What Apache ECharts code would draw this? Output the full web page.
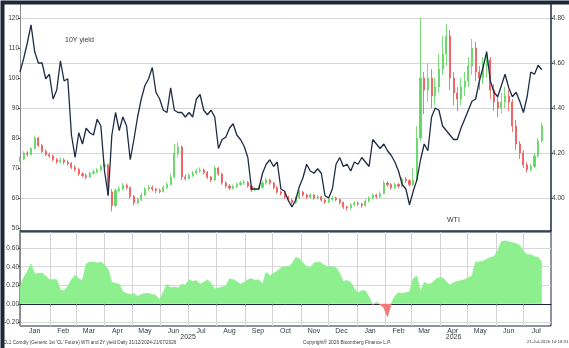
<!DOCTYPE html>
<html>
<head>
<meta charset="utf-8">
<script src="https://cdn.jsdelivr.net/npm/echarts@6/dist/echarts.min.js"></script>
<style>
html, body { margin: 0; padding: 0; background: #fff; }
#c { width: 569px; height: 348px; }
</style>
</head>
<body>
<div id="c"></div>
<script>
// samples every 4 calendar days from 30 Dec 2024
const START = Date.UTC(2024, 11, 30)
const DAY = 86400000
const STEP = 4

const monthNames = ['Jan', 'Feb', 'Mar', 'Apr', 'May', 'Jun', 'Jul', 'Aug', 'Sep', 'Oct', 'Nov', 'Dec']
const wtiTicks = [50, 60, 70, 80, 90, 100, 110, 120]
const yieldTicks = [4.0, 4.2, 4.4, 4.6, 4.8]
const corrTicks = [-0.2, 0, 0.2, 0.4, 0.6]

// 2Y yield (right axis)
const yield2y = [
  4.56, 4.62, 4.69, 4.77, 4.65, 4.60, 4.60, 4.53, 4.55, 4.44,
  4.48, 4.61, 4.52, 4.53, 4.28, 4.18, 4.29, 4.24, 4.31, 4.29,
  4.28, 4.35, 4.32, 4.12, 4.01, 4.28, 4.38, 4.30, 4.36, 4.32,
  4.17, 4.26, 4.36, 4.44, 4.50, 4.53, 4.58, 4.47, 4.44, 4.39,
  4.38, 4.49, 4.39, 4.38, 4.38, 4.36, 4.38, 4.36, 4.44, 4.46,
  4.39, 4.37, 4.39, 4.36, 4.22, 4.26, 4.27, 4.31, 4.33, 4.28,
  4.26, 4.23, 4.18, 4.04, 4.04, 4.04, 4.11, 4.15, 4.17, 4.14,
  4.16, 4.04, 4.03, 3.99, 3.96, 3.99, 4.05, 4.09, 4.15, 4.12,
  4.11, 4.13, 4.11, 4.01, 4.00, 4.04, 4.15, 4.18, 4.14, 4.15,
  4.12, 4.16, 4.15, 4.18, 4.16, 4.14, 4.26, 4.24, 4.22, 4.24,
  4.21, 4.19, 4.16, 4.12, 4.06, 4.04, 3.97, 4.03, 4.08, 4.17,
  4.24, 4.21, 4.36, 4.40, 4.39, 4.32, 4.30, 4.28, 4.26, 4.26,
  4.31, 4.35, 4.39, 4.43, 4.44, 4.52, 4.58, 4.65, 4.52, 4.47,
  4.45, 4.50, 4.55, 4.49, 4.45, 4.47, 4.43, 4.38, 4.45, 4.56,
  4.55, 4.59, 4.57
]

// WTI [open, close, low, high] (left axis)
const wti = [
  [72.5, 73, 72, 73.8], [73, 75, 72.6, 75.6], [75, 74.5, 73.8, 75.6], [74.5, 76.5, 74.2, 77],
  [76.5, 80, 76.2, 80.8], [80, 77.5, 77, 80.4], [77.5, 75.5, 75, 78], [75.5, 74.5, 74, 76.2],
  [74.5, 74, 73.3, 75.2], [74, 72.8, 72.3, 74.5], [72.8, 72, 71.4, 73.4], [72, 72.7, 71.5, 73.5],
  [72.7, 72, 71.2, 73.3], [72, 71.5, 70.8, 72.6], [71.5, 70.2, 69.6, 72], [70.2, 69.5, 68.8, 71],
  [69.5, 68, 67.3, 70], [68, 67.5, 66.8, 68.6], [67.5, 67, 66.2, 68.2], [67, 68.3, 66.7, 68.8],
  [68.3, 68.7, 67.8, 69.4], [68.7, 69.3, 68.2, 70], [69.3, 70.5, 68.9, 71.2], [70.5, 71, 69.8, 71.8],
  [71, 62, 61, 71.5], [62, 57.5, 55.5, 63], [57.5, 62.5, 57, 63.2], [62.5, 63, 61.8, 64],
  [63, 64.2, 62.5, 65], [64.2, 63.5, 62.8, 64.8], [63.5, 60.5, 59.8, 63.8], [60.5, 58.5, 57.5, 61],
  [58.5, 59.5, 57.8, 60.2], [59.5, 61, 59, 61.8], [61, 63, 60.6, 63.6], [63, 63.5, 62.4, 64.4],
  [63.5, 63, 62.3, 64.2], [63, 62.5, 61.6, 63.4], [62.5, 62.2, 61.5, 63.2], [62.2, 63.5, 61.8, 64.2],
  [63.5, 64.5, 63, 65.2], [64.5, 67, 64.2, 68], [67, 75, 66.5, 78], [75, 77, 73.5, 78.5],
  [77, 67, 66, 77.5], [67, 66.5, 65.8, 67.8], [66.5, 67.5, 66, 68.2], [67.5, 68.3, 67, 69],
  [68.3, 69, 67.8, 69.8], [69, 69.3, 68.4, 70.2], [69.3, 68.5, 67.8, 69.8], [68.5, 67, 66.4, 69],
  [67, 66, 65.3, 67.4], [66, 70, 65.6, 70.8], [70, 68, 67.4, 70.4], [68, 65, 64.4, 68.4],
  [65, 64, 63.3, 65.6], [64, 63.3, 62.6, 64.6], [63.3, 63.8, 62.8, 64.5], [63.8, 64.5, 63.3, 65.2],
  [64.5, 65, 64, 65.8], [65, 65.2, 64.4, 66], [65.2, 64, 63.4, 65.7], [64, 62.7, 62, 64.4],
  [62.7, 63, 62.2, 63.7], [63, 63.5, 62.5, 64.2], [63.5, 65, 63.1, 65.7], [65, 66, 64.5, 66.8],
  [66, 65, 64.4, 66.4], [65, 63.5, 62.8, 65.4], [63.5, 62, 61.4, 63.9], [62, 61.5, 60.8, 62.5],
  [61.5, 60.3, 59.6, 62], [60.3, 59.3, 58.6, 60.8], [59.3, 58.5, 57.8, 59.8], [58.5, 60, 58, 60.6],
  [60, 62, 59.6, 62.6], [62, 61, 60.4, 62.4], [61, 60.3, 59.6, 61.4], [60.3, 61, 59.8, 61.6],
  [61, 60, 59.4, 61.4], [60, 60.4, 59.5, 61], [60.4, 59.3, 58.7, 60.8], [59.3, 58.7, 58, 59.8],
  [58.7, 59.5, 58.3, 60.1], [59.5, 60, 59, 60.6], [60, 59.5, 58.9, 60.4], [59.5, 58.5, 57.8, 59.9],
  [58.5, 57, 56.3, 58.8], [57, 56.7, 55.8, 57.5], [56.7, 57.7, 56.2, 58.3], [57.7, 58.3, 57.2, 59],
  [58.3, 58, 57.3, 58.8], [58, 57.5, 56.8, 58.4], [57.5, 59, 57.1, 59.6], [59, 60, 58.5, 60.6],
  [60, 61, 59.5, 61.6], [61, 60.5, 59.8, 61.4], [60.5, 61.5, 60, 62.2], [61.5, 65, 61.2, 65.8],
  [65, 64.5, 63.7, 65.6], [64.5, 63.5, 62.8, 65], [63.5, 64.5, 63, 65.2], [64.5, 64, 63.2, 65],
  [64, 66.3, 63.6, 67], [66.3, 65.8, 65, 67], [65.8, 64.5, 63.8, 66.2], [64.5, 66, 64, 70],
  [66, 80, 65.5, 84], [80, 100, 79, 120], [100, 96, 88, 102], [96, 100, 92, 105],
  [100, 94, 90, 103], [94, 97, 91, 100], [97, 103, 95, 108], [103, 108, 101, 114],
  [108, 114, 104, 118], [114, 100, 96, 116], [100, 95, 91, 102], [95, 93, 89, 97],
  [93, 97, 91, 100], [97, 99, 94, 102], [99, 104, 97, 107], [104, 110, 101, 113],
  [110, 102, 99, 112], [102, 100, 96, 104], [100, 104, 98, 107], [104, 106, 100, 109],
  [106, 96, 93, 107], [96, 92, 89, 98], [92, 90, 87, 94], [90, 92, 88, 95],
  [92, 94, 90, 97], [94, 92, 89, 96], [92, 84, 82, 93], [84, 78, 76, 86],
  [78, 75, 73, 79], [75, 71, 70, 76], [71, 69.5, 68.5, 72], [69.5, 70.5, 68.8, 71.5],
  [70.5, 74, 70, 75], [74, 79, 73.5, 80], [79, 84, 78.5, 85]
]

// rolling correlation (lower panel)
const corr = [
  0.18, 0.28, 0.35, 0.43, 0.32, 0.33, 0.33, 0.30, 0.26, 0.26,
  0.26, 0.15, 0.14, 0.19, 0.26, 0.31, 0.27, 0.25, 0.43, 0.45,
  0.45, 0.44, 0.45, 0.42, 0.37, 0.23, 0.22, 0.21, 0.13, 0.11,
  0.10, 0.11, 0.08, 0.10, 0.11, 0.11, 0.10, 0.09, 0.04, 0.13,
  0.21, 0.17, 0.18, 0.17, 0.21, 0.20, 0.26, 0.24, 0.25, 0.21,
  0.23, 0.26, 0.22, 0.16, 0.17, 0.18, 0.19, 0.27, 0.26, 0.24,
  0.21, 0.23, 0.26, 0.27, 0.25, 0.26, 0.21, 0.34, 0.30, 0.33,
  0.35, 0.39, 0.40, 0.40, 0.43, 0.50, 0.49, 0.44, 0.40, 0.39,
  0.44, 0.45, 0.44, 0.41, 0.40, 0.40, 0.39, 0.33, 0.24, 0.25,
  0.23, 0.16, 0.12, 0.14, 0.14, 0.07, -0.01, 0.02, -0.01, -0.04,
  -0.14, 0.00, 0.08, 0.12, 0.11, 0.12, 0.13, 0.27, 0.30, 0.13,
  0.23, 0.21, 0.22, 0.26, 0.28, 0.28, 0.24, 0.20, 0.23, 0.24,
  0.25, 0.26, 0.28, 0.30, 0.45, 0.45, 0.46, 0.48, 0.50, 0.51,
  0.57, 0.67, 0.68, 0.67, 0.66, 0.65, 0.63, 0.57, 0.53, 0.53,
  0.51, 0.50, 0.45
]

const t = i => START + i * STEP * DAY
const X_MIN = Date.UTC(2024, 11, 30)
const X_MAX = Date.UTC(2026, 6, 31)
const monthStarts = []
const monthMids = []
for (let m = 0; m < 19; m++) {
  if (m > 0) monthStarts.push(Date.UTC(2025, m, 1))
  monthMids.push(Date.UTC(2025, m, 15))
}
const yearMids = [Date.UTC(2025, 6, 1), Date.UTC(2026, 3, 16)]

const FONT = 'Liberation Sans'
const TXT = '#3a3a3a'
const NAVY = '#1c2838'
const lbl = { color: TXT, fontSize: 7, fontFamily: FONT }
const ylbl = { color: TXT, fontSize: 6.5, fontFamily: FONT }

const chart = echarts.init(document.getElementById('c'))
chart.setOption({
  animation: false,
  grid: [
    { left: 20, right: 18, top: 3, height: 228 },
    { left: 20, right: 18, top: 232, height: 94, show: true, borderColor: NAVY, borderWidth: 1 },
  ],
  xAxis: [
    { gridIndex: 0, type: 'value', min: X_MIN, max: X_MAX,
      axisLine: { lineStyle: { color: NAVY, width: 1.5 } },
      axisTick: { show: false }, axisLabel: { show: false }, splitLine: { show: false } },
    { gridIndex: 1, type: 'value', min: X_MIN, max: X_MAX,
      axisLine: { lineStyle: { color: NAVY, width: 1 } },
      axisTick: { customValues: monthStarts, length: 2, lineStyle: { color: '#777' } },
      axisLabel: { ...lbl, margin: 2, customValues: monthMids,
        formatter: v => monthNames[new Date(v).getUTCMonth()] },
      splitLine: { show: true, lineStyle: { color: '#d4d4d4', width: 1 } } },
    { gridIndex: 1, type: 'value', min: X_MIN, max: X_MAX, position: 'bottom', offset: 7,
      axisLine: { show: false }, axisTick: { show: false }, splitLine: { show: false },
      axisLabel: { ...lbl, margin: 1, customValues: yearMids,
        formatter: v => String(new Date(v).getUTCFullYear()) } },
  ],
  yAxis: [
    { gridIndex: 0, type: 'value', position: 'left', min: 49, max: 125,
      axisLine: { show: true, lineStyle: { color: '#8a8a8a' } },
      axisTick: { show: true, customValues: wtiTicks, length: 2, lineStyle: { color: '#555' } },
      axisLabel: { ...ylbl, margin: 1, customValues: wtiTicks },
      splitLine: { show: false } },
    { gridIndex: 0, type: 'value', position: 'right', min: 3.8533, max: 4.8667,
      axisLine: { show: true, lineStyle: { color: NAVY, width: 1.5 } },
      axisTick: { show: true, customValues: yieldTicks, length: 2, lineStyle: { color: '#555' } },
      axisLabel: { ...ylbl, margin: 1, customValues: yieldTicks, formatter: v => v.toFixed(2) },
      splitLine: { show: true, lineStyle: { color: '#d6d6d6' } } },
    { gridIndex: 1, type: 'value', position: 'left', min: -0.24, max: 0.775,
      axisLine: { show: true, lineStyle: { color: '#8a8a8a' } },
      axisTick: { show: true, customValues: corrTicks, length: 2, lineStyle: { color: '#555' } },
      axisLabel: { ...ylbl, margin: 1, customValues: corrTicks, formatter: v => v.toFixed(2) },
      splitLine: { show: true, lineStyle: { color: '#d8d8d8' } } },
  ],
  visualMap: {
    show: false, seriesIndex: 2, dimension: 1,
    pieces: [{ min: -1, max: 0, color: '#f07a7a' }, { min: 0, max: 1, color: '#8eef8e' }],
  },
  series: [
    { type: 'candlestick', xAxisIndex: 0, yAxisIndex: 0, barWidth: 1.6,
      itemStyle: { color: '#5cd65c', color0: '#f05555', borderColor: '#5cd65c', borderColor0: '#f05555', borderWidth: 0.8 },
      data: wti.map((d, i) => [t(i), d[0], d[1], d[2], d[3]]) },
    { type: 'line', xAxisIndex: 0, yAxisIndex: 1, showSymbol: false, z: 5,
      lineStyle: { color: '#1e2b45', width: 1.3 },
      data: yield2y.map((v, i) => [t(i), v]) },
    { type: 'line', xAxisIndex: 1, yAxisIndex: 2, showSymbol: false,
      lineStyle: { width: 0.8 }, areaStyle: { opacity: 1 },
      data: corr.map((v, i) => [t(i), v]) },
  ],
  graphic: [
    { type: 'text', left: 65, top: 37, style: { text: '10Y yield', fill: TXT, font: '7px ' + FONT } },
    { type: 'text', left: 447, top: 217, style: { text: 'WTI', fill: TXT, font: '7px ' + FONT } },
    { type: 'text', left: 3, top: 340, style: { text: "CL1 Comdty (Generic 1st 'CL' Future) WTI and 2Y yield Daily 31/12/2024-21/07/2026", fill: TXT, font: '4.6px ' + FONT } },
    { type: 'text', left: 303, top: 340, style: { text: 'Copyright\u00ae 2026 Bloomberg Finance L.P.', fill: TXT, font: '4.8px ' + FONT } },
    { type: 'text', left: 527, top: 340, style: { text: '21-Jul-2026 14:18:31', fill: TXT, font: '4.4px ' + FONT } },
    { type: 'rect', left: 0, top: 0, z: 100, silent: true,
      shape: { x: 0, y: 0, width: 569, height: 348 },
      style: { fill: 'none', stroke: NAVY, lineWidth: 4 } },
  ],
})
</script>
</body>
</html>
